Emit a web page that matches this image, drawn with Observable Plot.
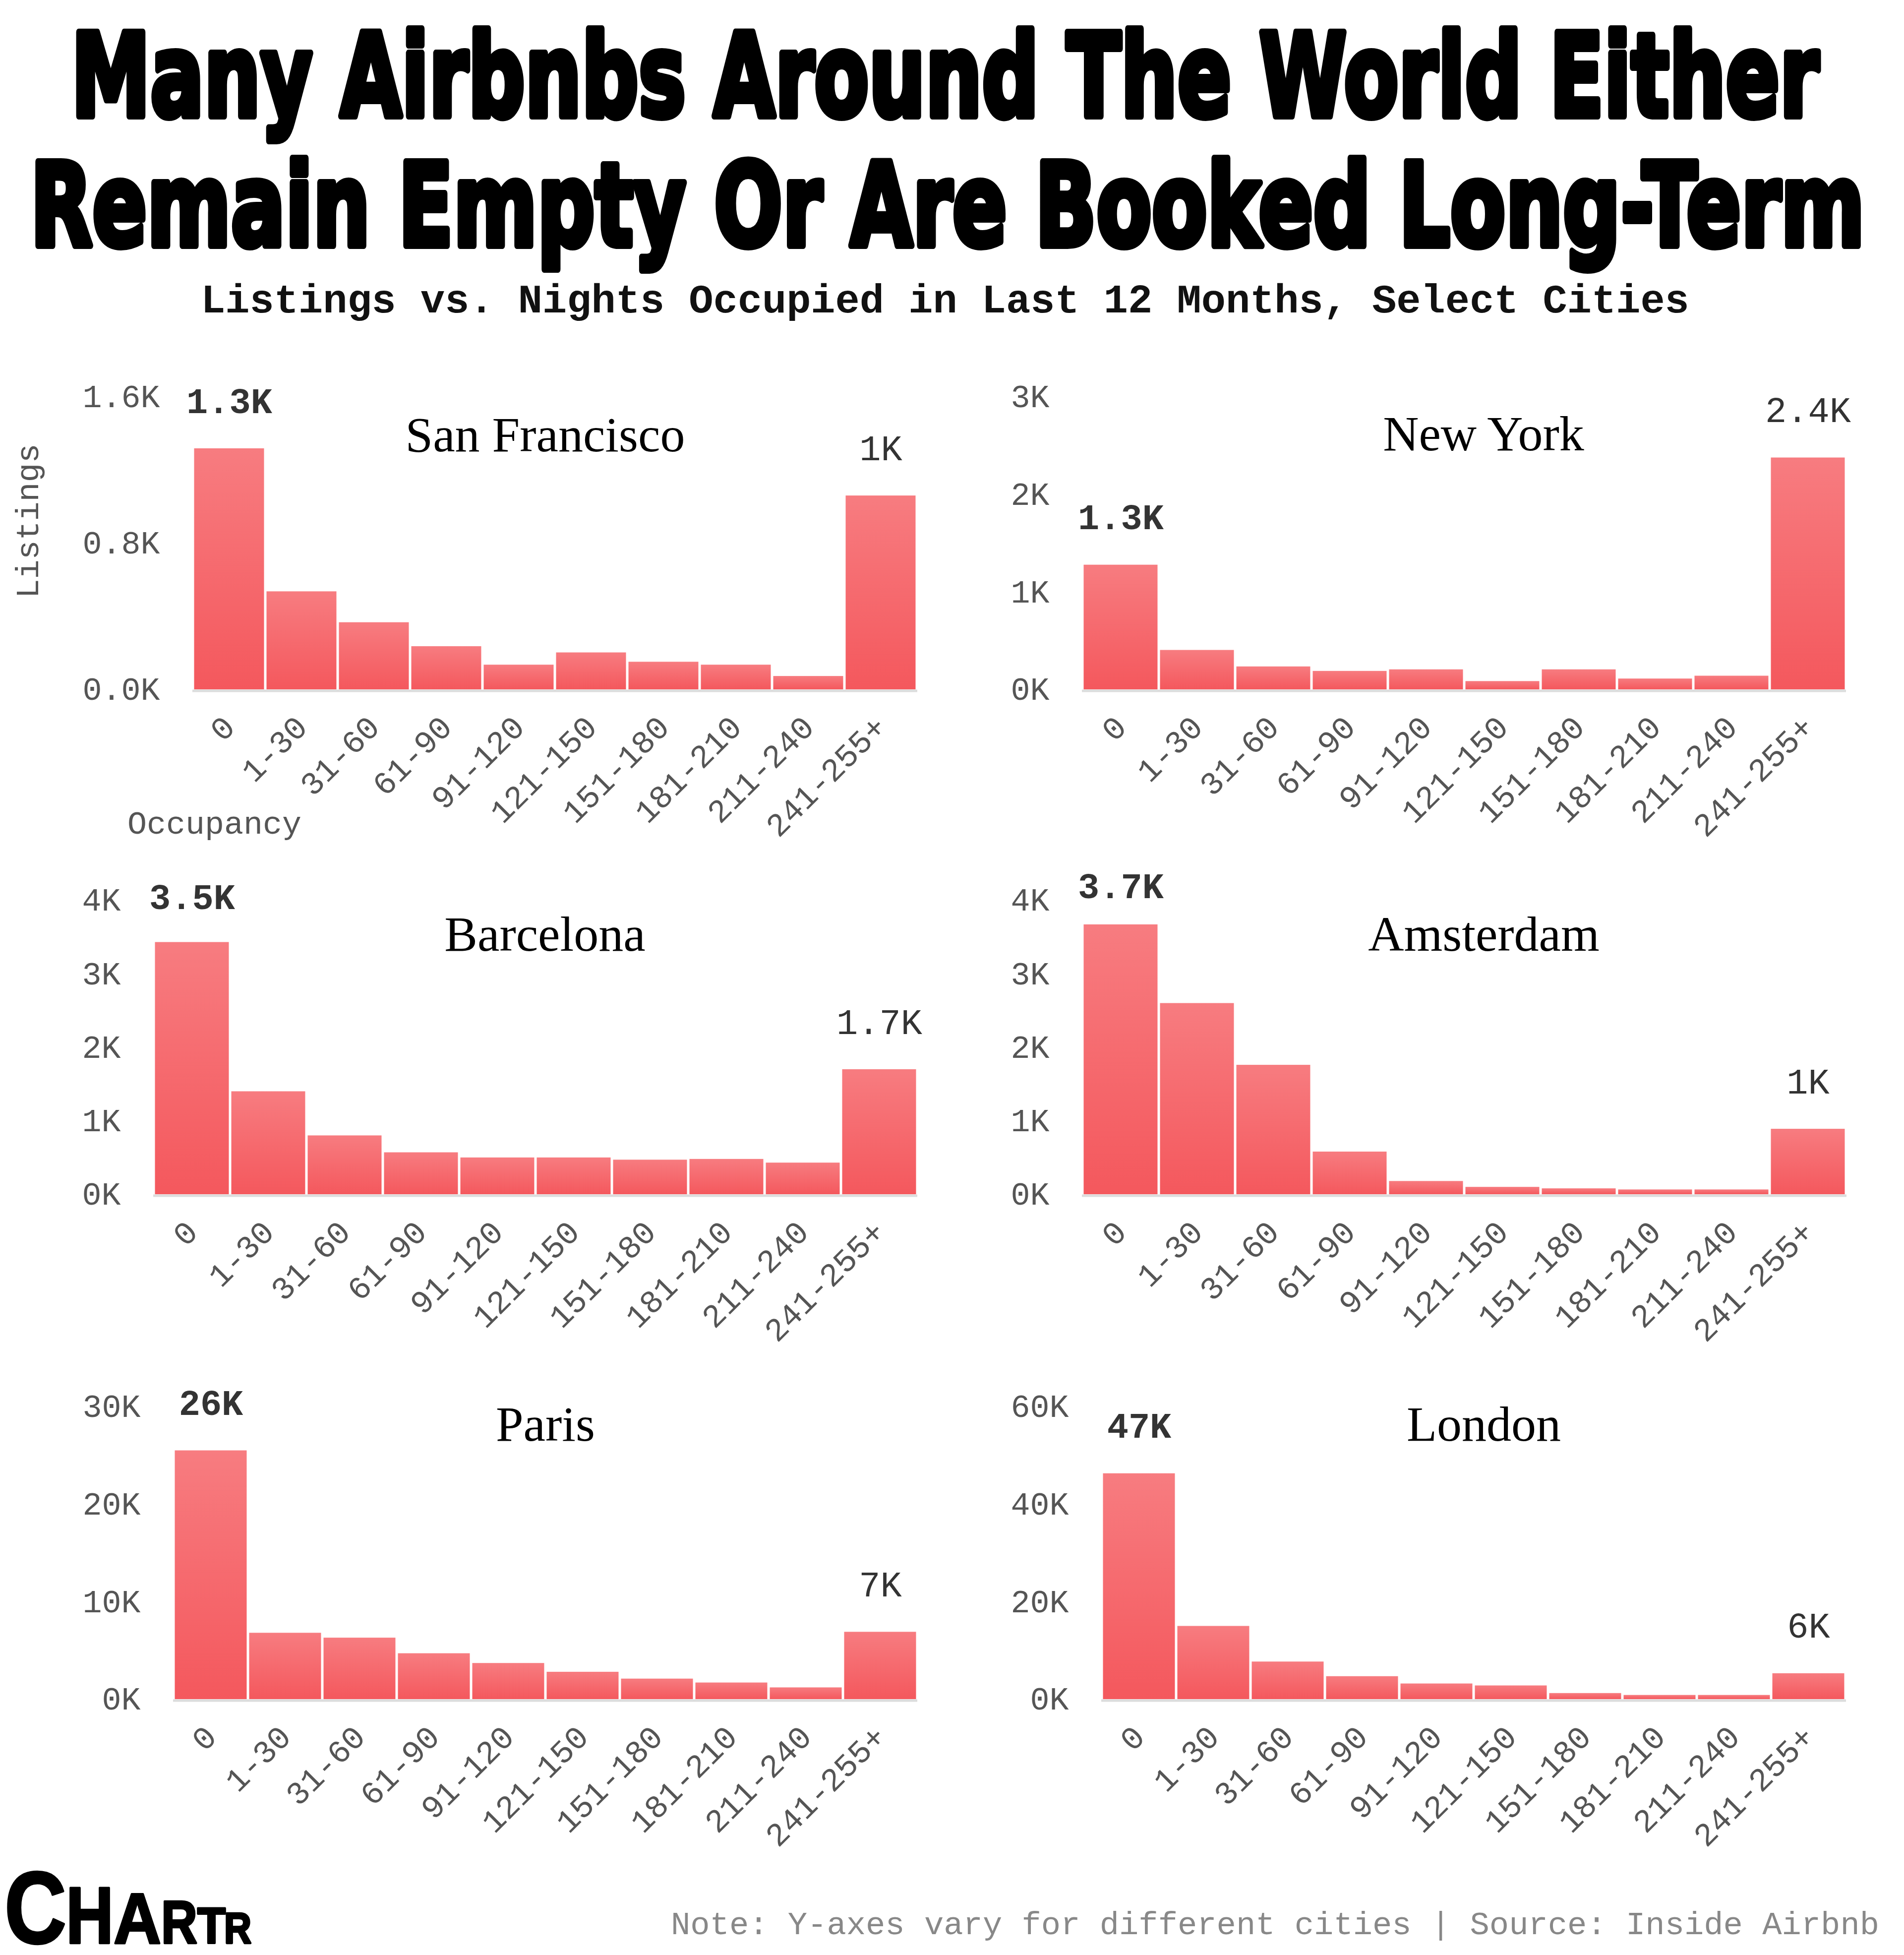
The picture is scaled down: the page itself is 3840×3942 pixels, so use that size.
<!DOCTYPE html>
<html><head><meta charset="utf-8">
<script src="https://cdn.jsdelivr.net/npm/d3@7"></script>
<script src="https://cdn.jsdelivr.net/npm/@observablehq/plot@0.6"></script>
<style>
html,body{margin:0;padding:0;background:#fff;}
#page{position:relative;width:3840px;height:3942px;overflow:hidden;background:#fff;}
.abs{position:absolute;}
.chart svg{max-width:none !important;display:block;}
</style></head><body>
<svg width="0" height="0" style="position:absolute">
  <defs>
    <linearGradient id="barGrad" x1="0" y1="0" x2="0" y2="1">
      <stop offset="0" stop-color="#f77c80"/>
      <stop offset="1" stop-color="#f4585d"/>
    </linearGradient>
  </defs>
</svg>
<div id="page">
  <svg id="head" class="abs" style="left:0;top:0" width="3840" height="700">
    <g id="titleGroup" font-family="DejaVu Sans" font-weight="bold" font-size="232" fill="#000" stroke="#000" stroke-width="12" stroke-linejoin="round"></g>
    <text id="sub" x="1906" y="630" text-anchor="middle" font-family="Liberation Mono" font-weight="bold" font-size="82" fill="#111"></text>
  </svg>
  <svg id="foot" class="abs" style="left:0;top:3740px" width="3840" height="202">
    <g id="logo" font-family="Liberation Sans" font-weight="bold" fill="#000" stroke="#000" stroke-width="4" stroke-linejoin="round"></g>
    <text id="note" x="3790" y="160" text-anchor="end" font-family="Liberation Mono" font-size="65.5" fill="#888"></text>
  </svg>
</div>
<script>
// ---------- data ----------
const titleLines = ["Many Airbnbs Around The World Either", "Remain Empty Or Are Booked Long-Term"];
const subtitle = "Listings vs. Nights Occupied in Last 12 Months, Select Cities";
const note = "Note: Y-axes vary for different cities | Source: Inside Airbnb";
const logoLetters = ["C", "H", "A", "R", "T", "R"];
const bins = ["0", "1-30", "31-60", "61-90", "91-120", "121-150", "151-180", "181-210", "211-240", "241-255+"];

const sanFrancisco = [1318, 536, 367, 236, 135, 202, 151, 135, 73, 1060];
const newYork      = [1278, 404, 235, 189, 205, 85, 205, 111, 140, 2377];
const barcelona    = [3430, 1400, 800, 570, 500, 500, 470, 480, 430, 1700];
const amsterdam    = [3670, 2600, 1760, 580, 180, 100, 80, 65, 65, 890];
const paris        = [25500, 6800, 6300, 4700, 3700, 2800, 2100, 1700, 1200, 6900];
const london       = [46300, 15000, 7700, 4700, 3200, 2800, 1240, 850, 850, 5300];

const sfTicks  = [0, 800, 1600];
const nyTicks  = [0, 1000, 2000, 3000];
const bcnTicks = [0, 1000, 2000, 3000, 4000];
const amsTicks = [0, 1000, 2000, 3000, 4000];
const parTicks = [0, 10000, 20000, 30000];
const lonTicks = [0, 20000, 40000, 60000];

const sfLabels  = ["1.3K", "1K"];
const nyLabels  = ["1.3K", "2.4K"];
const bcnLabels = ["3.5K", "1.7K"];
const amsLabels = ["3.7K", "1K"];
const parLabels = ["26K", "7K"];
const lonLabels = ["47K", "6K"];

// ---------- header / footer text ----------
const SVGNS = "http://www.w3.org/2000/svg";
// squeeze a text horizontally to a target width with a transform (keeps bbox honest)
function squeezedText(parent, str, attrs, x, y, width, anchor) {
  const t = document.createElementNS(SVGNS, "text");
  for (const k in attrs) t.setAttribute(k, attrs[k]);
  t.setAttribute("text-anchor", anchor);
  t.setAttribute("vector-effect", "non-scaling-stroke");
  t.textContent = str;
  parent.appendChild(t);
  const natural = t.getComputedTextLength() || width;
  t.setAttribute("transform", `translate(${x},${y}) scale(${width / natural},1)`);
  return t;
}
const titleGroup = document.getElementById("titleGroup");
// [centerX, baseline, width]
const titleLayout = [[1906, 234, 3525], [1911, 495, 3700]];
titleLines.forEach((line, i) => {
  const [cx, by, w] = titleLayout[i];
  squeezedText(titleGroup, line, {}, cx, by, w, "middle");
});
document.getElementById("sub").textContent = subtitle;
document.getElementById("note").textContent = note;

// logo letters: [x, width, fontSize]
const logoLayout = [[9, 125, 206], [133, 96, 162], [229, 96, 145], [325, 73, 123], [398, 57, 102], [452, 55, 88]];
const logo = document.getElementById("logo");
logoLetters.forEach((ch, i) => {
  const [x, w, fs] = logoLayout[i];
  squeezedText(logo, ch, {"font-size": fs}, x, 178, w, "start");
});

// ---------- charts ----------
const fmtK1 = d => (d / 1000).toFixed(1) + "K";
const fmtK = d => (d / 1000) + "K";

const cities = [
  {name: "San Francisco", values: sanFrancisco, ticks: sfTicks, labels: sfLabels, fmt: fmtK1, ldy: -95,
   left: 0, top: 700, h: 1000, ml: 388, mr: 70, mt: 100, mb: 310, tdx: -20, tdy: 109, axisLabels: true},
  {name: "New York", values: newYork, ticks: nyTicks, labels: nyLabels, fmt: fmtK, ldy: -95,
   left: 1920, top: 700, h: 1000, ml: 262, mr: 117, mt: 100, mb: 310, tdx: 39, tdy: 107},
  {name: "Barcelona", values: barcelona, ticks: bcnTicks, labels: bcnLabels, fmt: fmtK, ldy: -90,
   left: 0, top: 1720, h: 1000, ml: 309, mr: 70, mt: 95, mb: 312, tdx: 19, tdy: 101},
  {name: "Amsterdam", values: amsterdam, ticks: amsTicks, labels: amsLabels, fmt: fmtK, ldy: -76,
   left: 1920, top: 1720, h: 1000, ml: 262, mr: 116, mt: 95, mb: 312, tdx: 39, tdy: 101},
  {name: "Paris", values: paris, ticks: parTicks, labels: parLabels, fmt: fmtK, ldy: -95,
   left: 0, top: 2740, h: 1000, ml: 349, mr: 70, mt: 96, mb: 314, tdx: 0, tdy: 68},
  {name: "London", values: london, ticks: lonTicks, labels: lonLabels, fmt: fmtK, ldy: -95,
   left: 1920, top: 2740, h: 1000, ml: 301, mr: 117, mt: 96, mb: 314, tdx: 20, tdy: 68}
];

const page = document.getElementById("page");
for (const c of cities) {
  const data = bins.map((b, i) => ({bin: b, value: c.values[i]}));
  const marks = [
    Plot.barY(data, {x: "bin", y: "value", fill: "url(#barGrad)", insetLeft: 2.5, insetRight: 2.5}),
    Plot.ruleY([0], {stroke: "#dcdcdc", strokeWidth: 5, dy: 2.5}),
    Plot.text([data[0]], {x: "bin", y: "value", text: () => c.labels[0], dy: c.ldy, fontWeight: "bold", fontSize: 72, fill: "#333"}),
    Plot.text([data[data.length - 1]], {x: "bin", y: "value", text: () => c.labels[1], dy: -95, fontSize: 72, fill: "#333"}),
    Plot.text([c.name], {text: d => d, frameAnchor: "top", dx: c.tdx, dy: c.tdy, lineAnchor: "bottom",
      fontFamily: "Liberation Serif", fontSize: 100, fill: "#000"})
  ];
  if (c.axisLabels) {
    marks.push(Plot.text(["Listings"], {text: d => d, frameAnchor: "left", rotate: -90, dx: -332, dy: -45,
      textAnchor: "middle", fill: "#555", fontSize: 65}));
    marks.push(Plot.text(["Occupancy"], {text: d => d, frameAnchor: "bottom-left", dx: 44, dy: 290,
      textAnchor: "middle", fill: "#555", fontSize: 65}));
  }
  const chart = Plot.plot({
    width: 1920, height: c.h,
    marginLeft: c.ml, marginRight: c.mr, marginTop: c.mt, marginBottom: c.mb,
    style: {fontFamily: "Liberation Mono", fontSize: "65px", color: "#555", background: "transparent", overflow: "visible"},
    x: {domain: bins, padding: 0, tickSize: 0, tickRotate: -45, tickPadding: 65, label: null},
    y: {domain: [0, c.ticks[c.ticks.length - 1]], ticks: c.ticks, tickFormat: c.fmt, tickSize: 0, tickPadding: 66, label: null},
    marks
  });
  const wrap = document.createElement("div");
  wrap.className = "abs chart";
  wrap.style.left = c.left + "px";
  wrap.style.top = c.top + "px";
  wrap.style.width = "1920px";
  wrap.appendChild(chart);
  page.appendChild(wrap);
}
</script>
</body></html>
